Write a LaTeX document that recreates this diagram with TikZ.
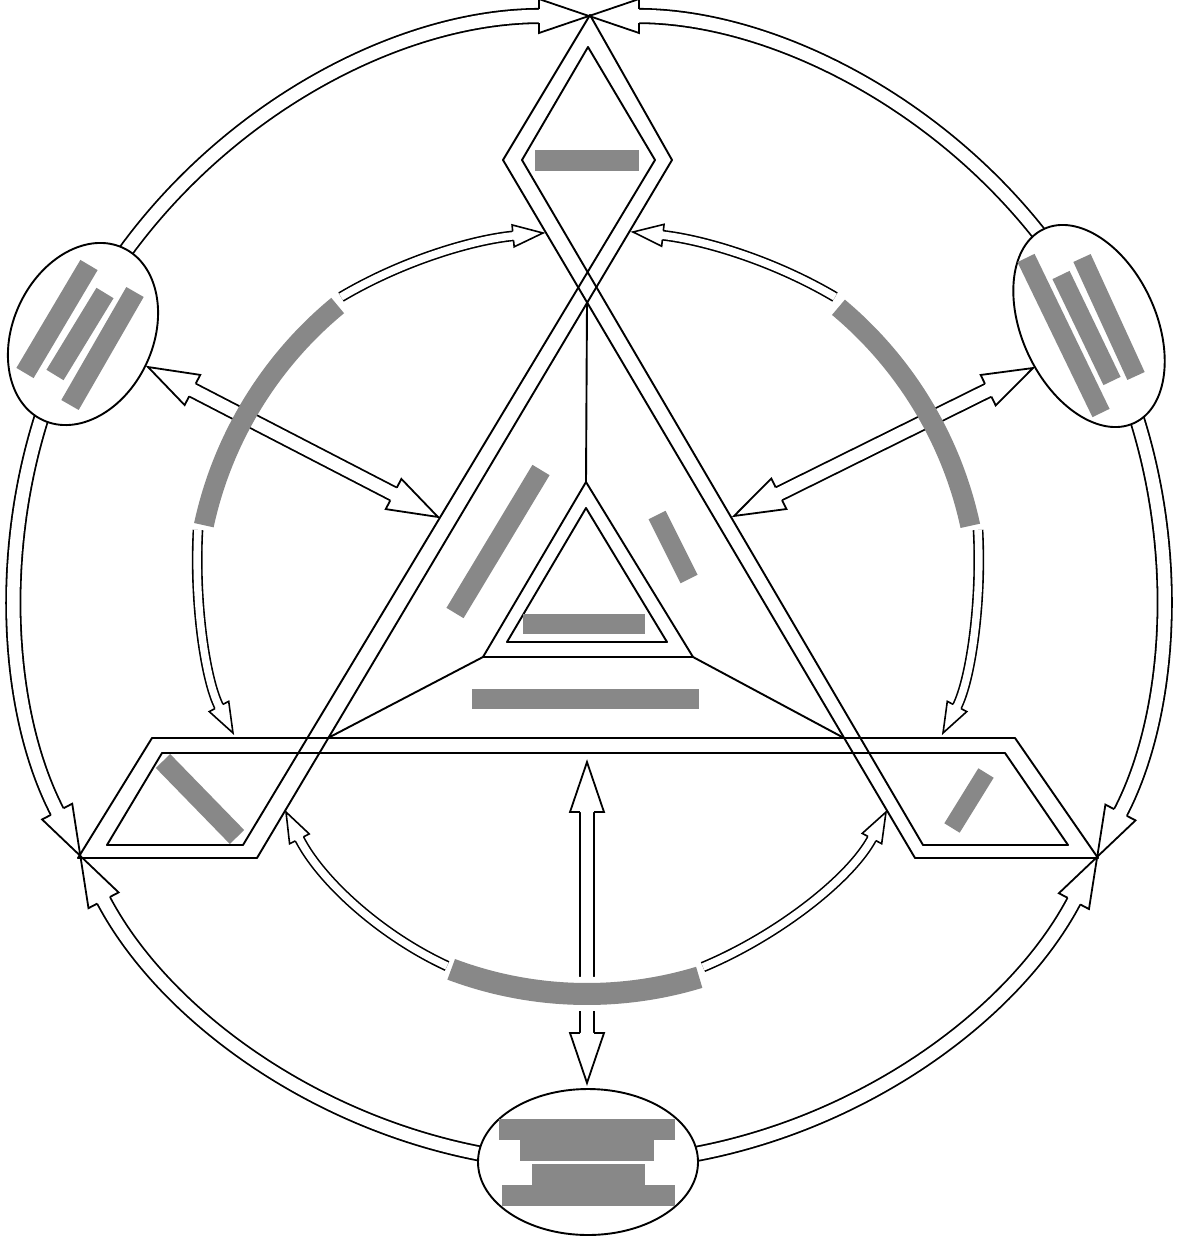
\documentclass[tikz,border=0pt]{standalone}
\usetikzlibrary{calc,decorations.markings}
\definecolor{redact}{RGB}{136,136,136}
\tikzset{
  ink/.style={draw=black, line width=1.9pt, line join=round},
  oshaft/.style={draw=black, line width=1.8pt, double=white, double distance=12.5pt},
  ishaft/.style={draw=black, line width=1.6pt, double=white, double distance=7.5pt},
  redbar/.style={draw=redact, line width=20pt},
  halo/.style={draw=white, line width=34pt},
}
\newcommand\bighead{\draw[fill=white, line width=1.8pt, line join=miter] (-50pt,-7.15pt) -- (-50pt,-17pt) -- (0pt,0pt) -- (-50pt,17pt) -- (-50pt,7.15pt);}
\newcommand\smallhead{\draw[fill=white, line width=1.6pt, line join=miter] (-30pt,-4.55pt) -- (-30pt,-11pt) -- (0pt,0pt) -- (-30pt,11pt) -- (-30pt,4.55pt);}
\newcommand\oarrow[1]{\draw[oshaft, shorten >=49pt] #1;
  \path[decoration={markings, mark=at position 0.9999 with {\bighead}}, decorate] #1;}
\newcommand\iarrow[1]{\draw[ishaft, shorten >=29pt] #1;
  \path[decoration={markings, mark=at position 0.9999 with {\smallhead}}, decorate] #1;}
\newcommand\twoarrow[1]{\draw[oshaft, shorten >=49pt, shorten <=49pt] #1;
  \path[decoration={markings, mark=at position 0.9999 with {\bighead}, mark=at position 0.0001 with {\begin{scope}[rotate=180]\bighead\end{scope}}}, decorate] #1;}
\begin{document}
\begin{tikzpicture}[x=1pt,y=-1pt]
\fill[white] (0,0) rectangle (1179,1236);
\useasboundingbox (0,0) rectangle (1179,1236);
\coordinate (O) at (589,590);
\coordinate (G) at (587,608);
% named points
\coordinate (top) at (589,16);
\coordinate (footL) at (80,856);
\coordinate (footR) at (1097,857);
\coordinate (eLc) at (83,334);
\coordinate (eRc) at (1089,326);
\coordinate (eBc) at (588,1162);

% ---------- outer arcs ----------
\oarrow{($(O)+(-146:574)$) arc[start angle=-146, end angle=-90, radius=574]}
\oarrow{($(O)+(-37:574)$) arc[start angle=-37, end angle=-90, radius=574]}
\oarrow{($(O)+(199:574)$) arc[start angle=199, end angle=152.4, radius=574]}
\oarrow{($(O)+(-19:574)$) arc[start angle=-19, end angle=27.7, radius=574]}
\oarrow{($(O)+(100:574)$) arc[start angle=100, end angle=152.4, radius=574]}
\oarrow{($(O)+(80:574)$) arc[start angle=80, end angle=27.7, radius=574]}

% ---------- ellipses ----------
\draw[ink, fill=white, rotate around={-25:(eLc)}] (eLc) ellipse [x radius=70, y radius=95];
\draw[ink, fill=white, rotate around={25:(eRc)}] (eRc) ellipse [x radius=67, y radius=107];
\draw[ink, fill=white] (eBc) ellipse [x radius=110, y radius=73];

% ---------- straight double arrows ----------
\coordinate (sL1) at (148,367);
\coordinate (sL2) at (438,517);
\coordinate (sR1) at (1033,368);
\coordinate (sR2) at (734,516);
\coordinate (v1) at (587,762);
\coordinate (v2) at (587,1083);
\twoarrow{(sL1) -- (sL2)}
\twoarrow{(sR1) -- (sR2)}
\twoarrow{(v1) -- (v2)}

% ---------- inner curved arrows ----------
\iarrow{(341,297) .. controls (400,262) and (470,240) .. (543,233)}
\iarrow{(198,530) .. controls (194,600) and (205,680) .. (233,733)}
\iarrow{(447,966) .. controls (380,935) and (320,880) .. (286,812)}
\iarrow{(703,967) .. controls (775,937) and (850,880) .. (886,812)}
\iarrow{(978,530) .. controls (982,600) and (971,680) .. (943,733)}
\iarrow{(835,297) .. controls (776,262) and (706,240) .. (633,232)}

% ---------- ribbon ----------
\draw[ink] (78,858) -- (152,738) -- (1015,738) -- (1098,858) -- (915,858) -- (503,160) -- (590,15) -- (672,160) -- (257,858) -- cycle;
\draw[ink] (107,845) -- (162,753) -- (1005,753) -- (1068,845) -- (923,845) -- (522,160) -- (588,47) -- (655,160) -- (243,845) -- cycle;
% ---------- inner triangle ----------
\coordinate (tA) at (586,482);
\coordinate (tL) at (483,657);
\coordinate (tR) at (693,657);
\draw[ink] (tA) -- (tR) -- (tL) -- cycle;
\draw[ink] (586,508) -- (667,642) -- (507,642) -- cycle;
\draw[ink] (587,303) -- (tA);
\draw[ink] (tL) -- (328,738);
\draw[ink] (tR) -- (844,738);

% ---------- redacted labels ----------
\draw[redbar] ($(G)+(192.2:392)$) arc[start angle=192.2, end angle=230.5, radius=392];
\draw[redbar] ($(G)+(309.9:392)$) arc[start angle=309.9, end angle=347.9, radius=392];
\draw[halo] ($(G)+(73.1:386)$) arc[start angle=73.1, end angle=110.6, radius=386];
\draw[redbar, line width=22pt] ($(G)+(73.1:386)$) arc[start angle=73.1, end angle=110.6, radius=386];

\fill[redact] (535,150) rectangle (639,171);
\fill[redact] (523,614) rectangle (645,634);
\fill[redact] (472,689) rectangle (699,709);
\draw[redbar] (455,613) -- (541,470);
\draw[redbar, line width=19pt] (657,515) -- (689,579);
\draw[redbar] (163,761) -- (237,837);
\draw[redbar, line width=18pt] (952,828) -- (986,773);

\draw[redbar] (25,373) -- (89,265);
\draw[redbar] (55,375) -- (105,293);
\draw[redbar] (70,405) -- (135,292);

\draw[redbar, line width=19pt] (1026,258) -- (1101,413);
\draw[redbar, line width=19pt] (1061,275) -- (1112,381);
\draw[redbar, line width=19pt] (1082,258) -- (1136,376);

\fill[redact] (499,1119) rectangle (675,1140);
\fill[redact] (520,1140) rectangle (654,1161);
\fill[redact] (532,1164) rectangle (645,1185);
\fill[redact] (502,1185) rectangle (675,1206);
\end{tikzpicture}
\end{document}
